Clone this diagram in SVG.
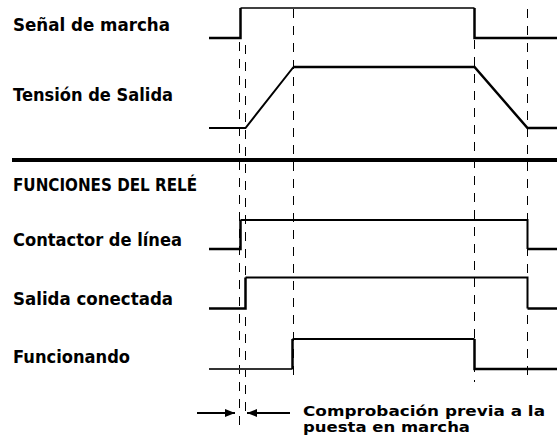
<svg xmlns="http://www.w3.org/2000/svg" width="557" height="448" viewBox="0 0 557 448">
<style>
text{font-family:"DejaVu Sans","Liberation Sans",sans-serif;font-weight:bold;fill:#000}
.lbl{font-size:17px}
.note{font-size:14px}
.sig{fill:none;stroke:#000;stroke-linejoin:miter;stroke-linecap:butt}
.thin{stroke-width:1.5}
.thick{stroke-width:2.5}
.dash{fill:none;stroke:#000;stroke-width:1;stroke-dasharray:9 8}
</style>
<defs>
<marker id="ah" viewBox="0 0 10 8" refX="10" refY="4" markerWidth="10" markerHeight="8" markerUnits="userSpaceOnUse" orient="auto">
<path d="M0,0 L10,4 L0,8 Z" fill="#000"/>
</marker>
</defs>
<rect width="557" height="448" fill="#fff"/>

<g id="labels">
<text class="lbl" x="13" y="31" textLength="157" lengthAdjust="spacingAndGlyphs">Señal de marcha</text>
<text class="lbl" x="13" y="101" textLength="160" lengthAdjust="spacingAndGlyphs">Tensión de Salida</text>
<text class="lbl" x="13" y="191" textLength="184" lengthAdjust="spacingAndGlyphs">FUNCIONES DEL RELÉ</text>
<text class="lbl" x="13" y="246" textLength="169" lengthAdjust="spacingAndGlyphs">Contactor de línea</text>
<text class="lbl" x="13" y="305" textLength="160" lengthAdjust="spacingAndGlyphs">Salida conectada</text>
<text class="lbl" x="13" y="363" textLength="117" lengthAdjust="spacingAndGlyphs">Funcionando</text>
</g>

<g id="separator">
<line x1="12" y1="160" x2="557" y2="160" stroke="#000" stroke-width="4"/>
</g>

<g id="guides">
<line class="dash" x1="239.5" y1="42" x2="239.5" y2="432"/>
<line class="dash" x1="245.5" y1="45" x2="245.5" y2="415"/>
<line class="dash" x1="293.5" y1="9" x2="293.5" y2="382"/>
<line class="dash" x1="474.5" y1="40" x2="474.5" y2="382"/>
<line class="dash" x1="527.5" y1="9" x2="527.5" y2="382"/>
</g>

<g id="signal-senal">
<path class="sig thick" d="M209,38 H240.5 V8"/>
<path class="sig thin" d="M240.5,8 H474.5"/>
<path class="sig thick" d="M474.5,8 V38 H557"/>
</g>

<g id="signal-tension">
<path class="sig" style="stroke-width:2" d="M209,128 H245.5 L293.5,67"/>
<path class="sig thick" d="M293.5,67 H474.5 L527.5,128 H557"/>
</g>

<g id="signal-contactor">
<path class="sig thick" d="M209,249 H240.5 V220"/>
<path class="sig" style="stroke-width:2" d="M240.5,220 H527.5 V249"/>
<path class="sig thick" d="M527.5,249 H557"/>
</g>

<g id="signal-salida">
<path class="sig thick" d="M209,308.5 H245.5 V277.5"/>
<path class="sig" style="stroke-width:2" d="M245.5,277.5 H527.5 V308.5"/>
<path class="sig thick" d="M527.5,308.5 H557"/>
</g>

<g id="signal-funcionando">
<path class="sig" style="stroke-width:2;stroke:#333" d="M209,369 H292.5"/>
<path class="sig thick" d="M292.5,369 V339"/>
<path class="sig" style="stroke-width:2" d="M292.5,339 H474.5"/>
<path class="sig thick" d="M474.5,339 V369 H557"/>
</g>

<g id="connectors">
<line x1="197" y1="413" x2="235" y2="413" stroke="#000" stroke-width="2" marker-end="url(#ah)"/>
<line x1="290" y1="413" x2="247" y2="413" stroke="#000" stroke-width="2" marker-end="url(#ah)"/>
</g>

<g id="note">
<text class="note" x="303" y="416" textLength="242" lengthAdjust="spacingAndGlyphs">Comprobación previa a la</text>
<text class="note" x="303" y="432" textLength="167" lengthAdjust="spacingAndGlyphs">puesta en marcha</text>
</g>
</svg>
